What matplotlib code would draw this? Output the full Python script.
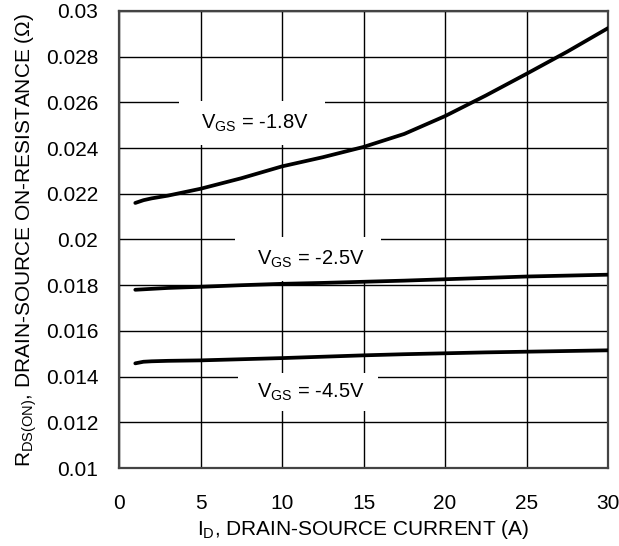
import matplotlib
matplotlib.use('Agg')
import matplotlib.pyplot as plt
import numpy as np

plt.rcParams['font.family'] = ['Liberation Sans', 'DejaVu Sans']
plt.rcParams['mathtext.fontset'] = 'custom'
plt.rcParams['mathtext.rm'] = 'Liberation Sans'
plt.rcParams['mathtext.it'] = 'Liberation Sans'

# drain current (A)
i_d = [1, 1.5, 2, 3, 5, 7.5, 10, 12.5, 15, 17.5, 20, 22.5, 25, 27.5, 30]
# on-resistance (ohm) for each gate voltage
r_18 = [0.02160, 0.02172, 0.02180, 0.02192, 0.02222, 0.02268, 0.02320, 0.02360,
        0.02405, 0.02462, 0.02540, 0.02630, 0.02725, 0.02822, 0.02925]
r_25 = [0.01780, 0.01782, 0.01784, 0.01788, 0.01793, 0.01800, 0.01806, 0.01810,
        0.01815, 0.01820, 0.01826, 0.01832, 0.01838, 0.01842, 0.01846]
r_45 = [0.01458, 0.01465, 0.01467, 0.01469, 0.01471, 0.01476, 0.01481, 0.01487,
        0.01493, 0.01498, 0.01502, 0.01506, 0.01509, 0.01512, 0.01515]

labels = ['$\\mathregular{V_{GS}}$ = -1.8V', '$\\mathregular{V_{GS}}$ = -2.5V',
          '$\\mathregular{V_{GS}}$ = -4.5V']
label_x = [8.15, 11.6, 11.6]
label_y = [0.0251, 0.01915, 0.01333]
label_pad = [0.55, 0.55, 0.4]

fig = plt.figure(figsize=(6.19, 5.46), dpi=100)
ax = fig.add_axes([119/619, 1 - 468/546, (608-119)/619, (468-11)/546])

ax.set_xlim(0, 30)
ax.set_ylim(0.01, 0.03)
ax.set_xticks(np.arange(0, 31, 5))
ax.set_yticks(np.arange(0.01, 0.0301, 0.002))
ax.set_yticklabels(['0.01', '0.012', '0.014', '0.016', '0.018', '0.02',
                    '0.022', '0.024', '0.026', '0.028', '0.03'])
ax.grid(True, color='black', linewidth=1.0)
ax.set_axisbelow(True)
ax.tick_params(length=0, labelsize=15)
ax.tick_params(axis='x', pad=19)
ax.tick_params(axis='y', pad=15)
for s in ax.spines.values():
    s.set_color('#444444')
    s.set_linewidth(1.6)

for r in [r_18, r_25, r_45]:
    ax.plot(i_d, r, color='black', linewidth=2.7, solid_capstyle='round', zorder=3)

for lab, lx, ly, p in zip(labels, label_x, label_y, label_pad):
    ax.text(lx, ly, '  ' + lab + '  ', ha='center', va='center', fontsize=14.5,
            bbox=dict(facecolor='white', edgecolor='none', boxstyle='square,pad=%g' % p),
            zorder=2)

ax.set_xlabel('I$_\\mathregular{D}$, DRAIN-SOURCE CURRENT (A)', fontsize=15, labelpad=3)
ax.set_ylabel('R$_\\mathregular{DS(ON)}$, DRAIN-SOURCE ON-RESISTANCE (Ω)', fontsize=15,
              labelpad=5)

fig.savefig('out.png', dpi=100)
